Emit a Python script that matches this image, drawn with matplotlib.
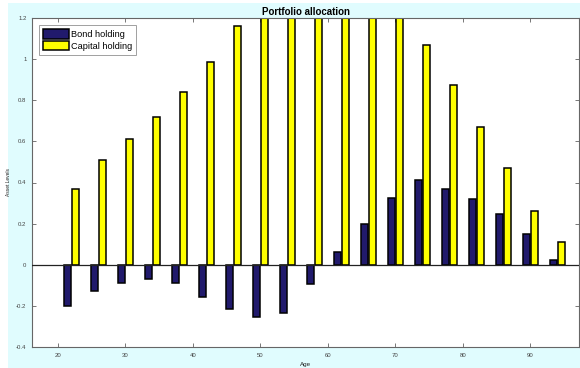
import matplotlib
matplotlib.use("Agg")
import matplotlib.pyplot as plt
import numpy as np
from matplotlib.patches import Rectangle

plt.rcParams['font.family'] = ['Liberation Sans', 'DejaVu Sans']

ages = [22, 26, 30, 34, 38, 42, 46, 50, 54, 58, 62, 66, 70, 74, 78, 82, 86, 90, 94]
bond_holding = [-0.20, -0.13, -0.09, -0.07, -0.09, -0.155, -0.215, -0.255, -0.235, -0.095,
                0.06, 0.20, 0.325, 0.41, 0.37, 0.32, 0.245, 0.15, 0.025]
capital_holding = [0.37, 0.51, 0.61, 0.72, 0.84, 0.985, 1.16, 1.33, 1.45, 1.52,
                   1.52, 1.42, 1.27, 1.07, 0.875, 0.67, 0.47, 0.26, 0.11]
x_ticks = [20, 30, 40, 50, 60, 70, 80, 90]
y_ticks = [-0.4, -0.2, 0, 0.2, 0.4, 0.6, 0.8, 1, 1.2]
y_tick_labels = ['-0.4', '-0.2', '0', '0.2', '0.4', '0.6', '0.8', '1', '1.2']

bond_color = '#211a6c'
capital_color = '#ffff00'
panel_color = '#e0fcfe'

fig = plt.figure(figsize=(5.8, 3.68), dpi=100, facecolor='white')
fig.patches.append(Rectangle((8 / 580, 0), 1, (368 - 3) / 368, transform=fig.transFigure,
                             facecolor=panel_color, edgecolor='none', zorder=-10))

ax = fig.add_axes([32 / 580, 21 / 368, (579 - 32) / 580, (347 - 18) / 368])
ax.set_facecolor('white')

ages_arr = np.array(ages)
w = 1.0
ax.bar(ages_arr - 0.6, bond_holding, width=w, color=bond_color, edgecolor='black',
       linewidth=1.1, label='Bond holding', zorder=2)
ax.bar(ages_arr + 0.6, capital_holding, width=w, color=capital_color, edgecolor='black',
       linewidth=1.1, label='Capital holding', zorder=2)
ax.axhline(0, color='#222222', linewidth=0.9, zorder=3)

ax.set_xlim(16.15, 97.2)
ax.set_ylim(-0.4, 1.2)
ax.set_xticks(x_ticks)
ax.set_yticks(y_ticks)
ax.set_yticklabels(y_tick_labels)
ax.tick_params(direction='in', length=3, width=0.7, color='#777777', labelsize=4.3,
               labelcolor='#444444', top=True, right=True, pad=4)
for s in ax.spines.values():
    s.set_color('#666666')
    s.set_linewidth(0.8)

ax.set_title('Portfolio allocation', fontsize=7, fontweight='bold', pad=2)
ax.set_xlabel('Age', fontsize=4.5, labelpad=3, color='#222222')
ax.set_ylabel('Asset Levels', fontsize=3.5, labelpad=4, color='#222222')

leg = ax.legend(loc='upper left', bbox_to_anchor=(0.012, 0.978), fontsize=6.6,
                handlelength=2.9, handleheight=1.2, handletextpad=0.2,
                borderpad=0.45, labelspacing=0.2, frameon=True, fancybox=False,
                borderaxespad=0)
leg.get_frame().set_edgecolor('#888888')
leg.get_frame().set_linewidth(0.7)

fig.savefig('out.png', dpi=100, facecolor=fig.get_facecolor())
